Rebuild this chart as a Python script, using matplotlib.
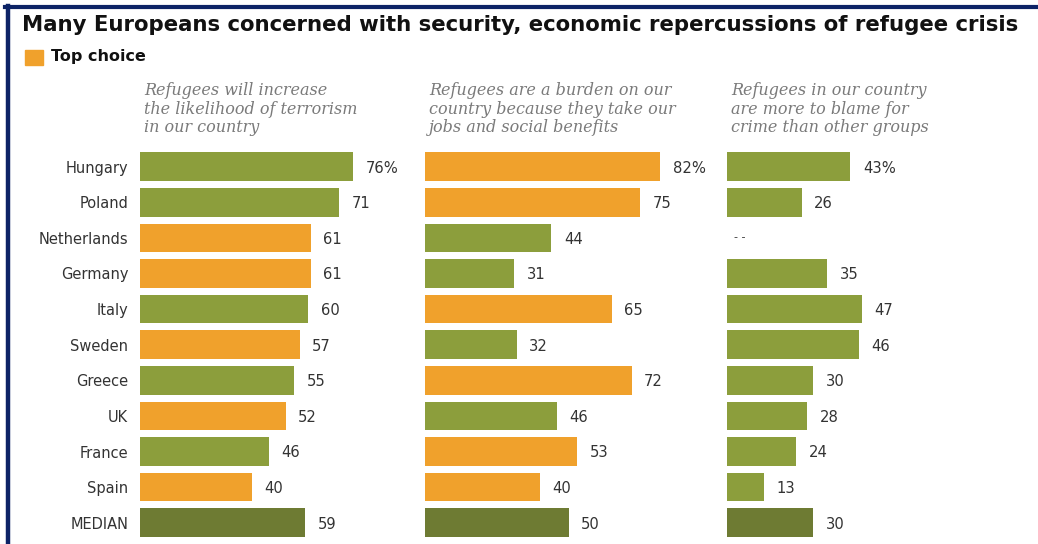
import matplotlib
matplotlib.use("Agg")
import matplotlib.pyplot as plt
from matplotlib.lines import Line2D

# ------------------------------------------------------------
# data
# ------------------------------------------------------------
countries = ["Hungary", "Poland", "Netherlands", "Germany", "Italy", "Sweden",
             "Greece", "UK", "France", "Spain", "MEDIAN"]
terrorism = [76, 71, 61, 61, 60, 57, 55, 52, 46, 40, 59]
burden    = [82, 75, 44, 31, 65, 32, 72, 46, 53, 40, 50]
crime     = [43, 26, None, 35, 47, 46, 30, 28, 24, 13, 30]

subtitles = [
    "Refugees will increase\nthe likelihood of terrorism\nin our country",
    "Refugees are a burden on our\ncountry because they take our\njobs and social benefits",
    "Refugees in our country\nare more to blame for\ncrime than other groups",
]
title = "Many Europeans concerned with security, economic repercussions of refugee crisis"
legend_label = "Top choice"

GREEN  = "#8c9e3c"
ORANGE = "#f0a12c"
DARK   = "#6e7b33"
NAVY   = "#0d2366"
TXT    = "#333333"
SUB    = "#7a7a7a"

W, H = 1038, 544
fig = plt.figure(figsize=(W / 100, H / 100), dpi=100)
fig.patch.set_facecolor("white")

def fx(px):
    return px / W

def fy(py):
    return 1 - py / H

# frame lines (top + left)
fig.add_artist(Line2D([fx(5), 1], [fy(7), fy(7)], color=NAVY, lw=3, transform=fig.transFigure))
fig.add_artist(Line2D([fx(7.5), fx(7.5)], [fy(5.5), 0], color=NAVY, lw=3.2, transform=fig.transFigure))

fig.text(fx(22), fy(25), title, fontsize=15.3, fontweight="bold", color="#111111",
         family="DejaVu Sans", va="center", ha="left")

# legend swatch
fig.patches.append(plt.Rectangle((fx(25), fy(65)), fx(18), 15 / H, color=ORANGE,
                                 transform=fig.transFigure, figure=fig))
fig.text(fx(51), fy(57), legend_label, fontsize=11.5, fontweight="bold", color="#111111",
         family="DejaVu Sans", va="center", ha="left")

# top choice per country: the largest value across the three questions
series = [terrorism, burden, crime]
n = len(countries)
best = []
for i in range(n):
    vals = [s[i] for s in series if s[i] is not None]
    best.append(max(vals))

panel_left  = [140, 425, 727]
panel_scale = [2.80, 2.87, 2.87]   # pixels per percentage point
row_h = 35.6
top_px = 166.7 - row_h / 2

for k, (vals, left, sc, sub) in enumerate(zip(series, panel_left, panel_scale, subtitles)):
    ax = fig.add_axes([fx(left), fy(top_px + n * row_h), 100 * sc / W, n * row_h / H])
    ax.set_xlim(0, 100)
    ax.set_ylim(n - 0.5, -0.5)
    for i, v in enumerate(vals):
        if v is None:
            ax.annotate("- -", (0, i), xytext=(5, 1), textcoords="offset points",
                        va="center", ha="left", fontsize=8, color=TXT)
            continue
        if countries[i] == "MEDIAN":
            c = DARK
        elif v == best[i]:
            c = ORANGE
        else:
            c = GREEN
        ax.barh(i, v, height=0.8, color=c)
        lab = f"{v}%" if i == 0 else f"{v}"
        ax.annotate(lab, (v, i), xytext=(9, -1), textcoords="offset points",
                    va="center", ha="left", fontsize=10.6, color=TXT)
    ax.set_yticks(range(n))
    if k == 0:
        ax.set_yticklabels(countries, fontsize=10.5, color=TXT)
        ax.tick_params(axis="y", length=0, pad=8.5)
    else:
        ax.set_yticks([])
    ax.set_xticks([])
    for s in ax.spines.values():
        s.set_visible(False)
    ax.patch.set_alpha(0)

    fig.text(fx(left + 4), fy(82), sub, fontsize=11.5, style="italic", family="DejaVu Serif",
             color=SUB, va="top", ha="left", linespacing=1.12)

fig.savefig("out.png", dpi=100)
